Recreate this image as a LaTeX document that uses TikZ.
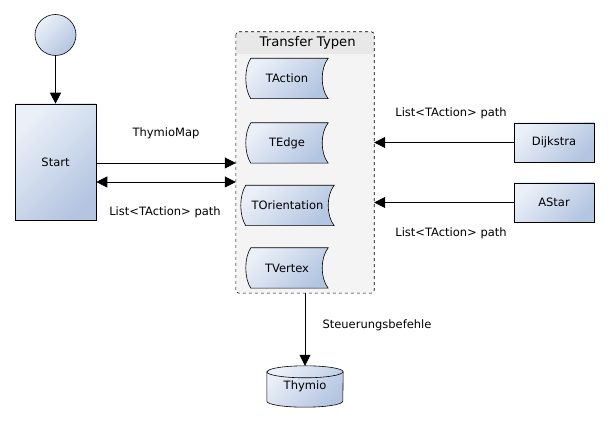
\documentclass[tikz,border=0pt]{standalone}
\usepackage{fontspec}
\setmainfont{DejaVu Sans}
\usetikzlibrary{calc,positioning,arrows.meta}
\definecolor{boxlight}{HTML}{EBF0F8}
\definecolor{boxdark}{HTML}{B3C5E1}
\definecolor{contfill}{HTML}{F4F4F4}
\definecolor{headfill}{HTML}{E8E8E8}
\tikzset{
  shadebox/.style={top color=boxlight, bottom color=boxdark, shading angle=45, draw=black, line width=0.6pt},
  procbox/.style={shadebox, rectangle, inner sep=0pt},
  arr/.style={line width=0.8pt, -{Triangle[length=11pt,width=11pt]}},
  dblarr/.style={line width=0.8pt, {Triangle[length=11pt,width=11pt]}-{Triangle[length=11pt,width=11pt]}},
  typebox/.style={minimum width=#1, minimum height=40pt, inner sep=0pt,
    append after command={\pgfextra{%
      \shade[shadebox] ([xshift=5pt]\tikzlastnode.north west)
        .. controls ([xshift=-1.7pt,yshift=-10pt]\tikzlastnode.north west)
        and ([xshift=-1.7pt,yshift=10pt]\tikzlastnode.south west) .. ([xshift=5pt]\tikzlastnode.south west)
        -- (\tikzlastnode.south east)
        .. controls ([xshift=-8pt,yshift=10pt]\tikzlastnode.south east)
        and ([xshift=-8pt,yshift=-10pt]\tikzlastnode.north east) .. (\tikzlastnode.north east)
        -- cycle;}}},
  typebox/.default=82pt,
  dbbox/.style={minimum width=76pt, minimum height=41pt, inner sep=0pt,
    append after command={\pgfextra{%
      \shade[shadebox] ([yshift=-6pt]\tikzlastnode.north west) -- ([yshift=6pt]\tikzlastnode.south west)
        arc[start angle=180, end angle=360, x radius=38pt, y radius=6pt]
        -- ([yshift=-6pt]\tikzlastnode.north east)
        arc[start angle=0, end angle=180, x radius=38pt, y radius=6pt] -- cycle;
      \draw[line width=0.6pt] ([yshift=-6pt]\tikzlastnode.north west)
        arc[start angle=180, end angle=360, x radius=38pt, y radius=6pt];}}}
}
\begin{document}
\begin{tikzpicture}[x=1pt, y=1pt, font=\fontsize{11.5}{13}\selectfont]
  \useasboundingbox (0,0) rectangle (610,428);

  % start circle and start block
  \node[shadebox, circle, minimum size=41pt, inner sep=0pt] (init) at (55.5,393) {};
  \node[procbox, minimum width=81pt, minimum height=116pt] (start) at (55.5,266) {Start};
  \draw[arr] (init) -- (start);

  % container for the transfer types
  \node[fill=contfill, minimum width=138pt, minimum height=261pt, inner sep=0pt, rounded corners=3pt] (types) at (305,265.5) {};
  \fill[headfill, rounded corners=3pt] (types.north west) rectangle ([yshift=-22pt]types.north east);
  \fill[headfill] ([yshift=-10pt]types.north west) rectangle ([yshift=-22pt]types.north east);
  \draw[dashed, line width=0.6pt, rounded corners=3pt] (types.north west) rectangle (types.south east);
  \node[font=\fontsize{13.2}{15}\selectfont, anchor=east] (typestitle) at ([xshift=-15pt,yshift=-11pt]types.north east) {Transfer Typen};

  % the four types
  \node[typebox] (taction) at (287,349.5) {TAction};
  \node[typebox] (tedge) at (287,285) {TEdge};
  \node[typebox=93pt] (torient) at (287.5,222.5) {TOrientation};
  \node[typebox] (tvertex) at (287,160) {TVertex};

  % path finders on the right
  \node[procbox, minimum width=80pt, minimum height=39pt] (dijkstra) at (554,285.5) {Dijkstra};
  \node[procbox, minimum width=80pt, minimum height=39pt] (astar) at (554,225.5) {AStar};

  % robot
  \node[dbbox] (thymio) at (305,41.5) {Thymio};

  % connections
  \draw[arr] ([yshift=-1pt]start.east) -- ([yshift=-1pt]start.east -| types.west);
  \node (maplbl) at (166,295) {ThymioMap};
  \draw[dblarr] ([yshift=-20pt]start.east) -- ([yshift=-20pt]start.east -| types.west);
  \node (pathlbl) at (165,216) {List<TAction> path};

  \draw[arr] (dijkstra.west) -- (dijkstra.west -| types.east);
  \node (dijlbl) at (451,315) {List<TAction> path};
  \draw[arr] (astar.west) -- (astar.west -| types.east);
  \node (astlbl) at (451,195) {List<TAction> path};

  \draw[arr] (types.south) -- (thymio.north);
  \node (cmdlbl) at (377,103) {Steuerungsbefehle};
\end{tikzpicture}
\end{document}
